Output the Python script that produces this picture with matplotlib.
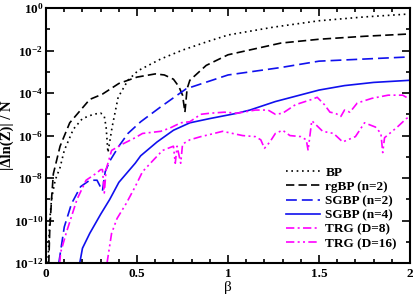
import numpy as np
import matplotlib
matplotlib.use("Agg")
import matplotlib.pyplot as plt
from matplotlib.ticker import MultipleLocator, FixedLocator, FuncFormatter, NullFormatter

plt.rcParams['font.family'] = ['Liberation Serif', 'DejaVu Serif']
plt.rcParams['font.weight'] = 'bold'
plt.rcParams['mathtext.fontset'] = 'custom'
plt.rcParams['mathtext.rm'] = 'Liberation Serif:bold'
plt.rcParams['mathtext.bf'] = 'Liberation Serif:bold'

# data: beta and log10 of |dln Z|/N
bp_x = [0.01, 0.015, 0.02, 0.03, 0.05, 0.077, 0.1, 0.15, 0.2, 0.26, 0.3, 0.32, 0.33, 0.34,
        0.363, 0.396, 0.45, 0.505, 0.63, 0.75, 0.88, 1.0, 1.25, 1.5, 1.75, 2.0]
bp_y = [-12, -11, -10, -9, -8.1, -7.5, -6.7, -5.7, -5.2, -5.0, -4.94, -5.1, -5.6, -6.8,
        -5.6, -4.2, -3.4, -2.95, -2.4, -1.98, -1.6, -1.27, -0.9, -0.6, -0.42, -0.28]

rg_x = [0.015, 0.02, 0.03, 0.04, 0.077, 0.13, 0.19, 0.24, 0.31, 0.4, 0.5, 0.6, 0.65, 0.7,
        0.73, 0.75, 0.763, 0.775, 0.79, 0.88, 1.0, 1.29, 1.5, 1.75, 2.0]
rg_y = [-12, -10.5, -9, -7.8, -6.5, -5.4, -4.8, -4.3, -4.05, -3.55, -3.25, -3.1, -3.15, -3.35,
        -3.7, -4.1, -4.9, -3.8, -3.4, -2.7, -2.2, -1.65, -1.47, -1.33, -1.22]

sg2_x = [0.07, 0.077, 0.1, 0.14, 0.19, 0.24, 0.28, 0.31, 0.325, 0.35, 0.4, 0.45, 0.52, 0.63,
         0.77, 1.0, 1.29, 1.5, 1.75, 2.0]
sg2_y = [-12, -11.6, -10.3, -9.2, -8.4, -8.1, -8.1, -8.6, -7.7, -7.2, -6.5, -5.9, -5.35, -4.65,
         -3.8, -3.15, -2.8, -2.5, -2.4, -2.3]

sg4_x = [0.185, 0.2, 0.24, 0.3, 0.35, 0.4, 0.49, 0.52, 0.61, 0.7, 0.79, 0.9, 1.05, 1.12,
         1.26, 1.5, 1.64, 1.8, 2.0]
sg4_y = [-12, -11.3, -10.6, -9.7, -9.0, -8.2, -7.3, -6.95, -6.3, -5.75, -5.4, -5.2, -4.95, -4.8,
         -4.4, -3.86, -3.65, -3.5, -3.4]

trg8_x = [0.075, 0.08, 0.11, 0.17, 0.22, 0.28, 0.3, 0.31, 0.32, 0.33, 0.36, 0.42, 0.49, 0.53,
          0.63, 0.68, 0.74, 0.79, 0.85, 0.9, 0.98, 1.05, 1.15, 1.22, 1.26, 1.3, 1.37, 1.46,
          1.49, 1.53, 1.56, 1.59, 1.62, 1.64, 1.67, 1.71, 1.79, 1.88, 1.96, 2.0]
trg8_y = [-12, -11.5, -10.6, -9.0, -8.1, -7.75, -7.6, -7.6, -8.7, -7.6, -6.7, -6.4, -6.1, -5.9,
          -5.8, -5.65, -5.4, -5.35, -5.0, -4.95, -4.9, -4.95, -4.8, -4.8, -5.0, -4.95, -4.55, -4.3,
          -4.2, -4.55, -4.9, -4.95, -5.1, -4.8, -4.9, -4.47, -4.25, -4.1, -4.1, -4.3]

trg16_x = [0.335, 0.36, 0.39, 0.44, 0.49, 0.53, 0.59, 0.64, 0.7, 0.71, 0.72, 0.74, 0.75, 0.79,
           0.85, 0.9, 0.97, 1.08, 1.15, 1.18, 1.2, 1.23, 1.26, 1.3, 1.34, 1.4, 1.43, 1.44,
           1.46, 1.52, 1.58, 1.63, 1.7, 1.75, 1.81, 1.84, 1.85, 1.86, 1.93, 1.98, 2.0]
trg16_y = [-12, -10.6, -9.9, -9.2, -8.4, -7.7, -7.15, -6.7, -6.5, -7.3, -6.5, -7.3, -6.4, -6.2,
           -6.05, -5.95, -5.8, -6.0, -6.05, -6.2, -6.6, -6.3, -5.9, -5.75, -6.0, -6.05, -6.2, -6.7,
           -5.3, -5.8, -5.9, -6.3, -6.05, -5.4, -5.6, -5.9, -6.8, -6.1, -5.6, -5.2, -5.1]

series = [
    (bp_x, bp_y, 'BP', 'black', (0, (1, 2.2))),
    (rg_x, rg_y, 'rgBP (n=2)', 'black', (0, (5, 2.5))),
    (sg2_x, sg2_y, 'SGBP (n=2)', '#1010ee', (0, (6.5, 3))),
    (sg4_x, sg4_y, 'SGBP (n=4)', '#1010ee', '-'),
    (trg8_x, trg8_y, 'TRG (D=8)', '#ff00ff', (0, (5, 2, 1.2, 2))),
    (trg16_x, trg16_y, 'TRG (D=16)', '#ff00ff', (0, (5, 2, 1.2, 2, 1.2, 2))),
]

fig = plt.figure(figsize=(4.15, 2.96), dpi=100)
ax = fig.add_axes([0.111, 0.111, 0.877, 0.862])

for x, y, lab, col, ls in series:
    ax.plot(x, 10.0 ** np.array(y), color=col, linestyle=ls, linewidth=1.2, label=lab)

ax.set_yscale('log')
ax.set_xlim(0, 2)
ax.set_ylim(1e-12, 1)
ax.xaxis.set_major_locator(MultipleLocator(0.5))
ax.xaxis.set_minor_locator(MultipleLocator(0.1))
ax.xaxis.set_major_formatter(FuncFormatter(lambda v, p: f'{v:g}'))
ax.yaxis.set_major_locator(FixedLocator([10.0 ** k for k in range(-12, 1, 2)]))
ax.yaxis.set_minor_locator(FixedLocator([10.0 ** k for k in range(-11, 0, 2)]))
ax.yaxis.set_major_formatter(FuncFormatter(
    lambda v, p: r'$\mathbf{10^{%d}}$' % int(round(np.log10(v)))))
ax.yaxis.set_minor_formatter(NullFormatter())
ax.tick_params(which='both', direction='in', top=True, right=True, labelsize=9.5, width=1.2)
ax.tick_params(axis='y', pad=2)
ax.tick_params(which='major', length=6)
ax.tick_params(which='minor', length=3)
for s in ax.spines.values():
    s.set_linewidth(1.5)

ax.set_xlabel('β', fontsize=11, fontweight='normal', labelpad=1)
ax.set_ylabel('|Δln(Z)| / N', fontsize=10.5, fontweight='bold')
ax.yaxis.set_label_coords(-0.088, 0.5)

ax.legend(loc='lower right', frameon=False, fontsize=9.5, handlelength=2.6,
          handletextpad=0.4, labelspacing=0.15, borderaxespad=0.6)

fig.savefig('out.png', dpi=100)
